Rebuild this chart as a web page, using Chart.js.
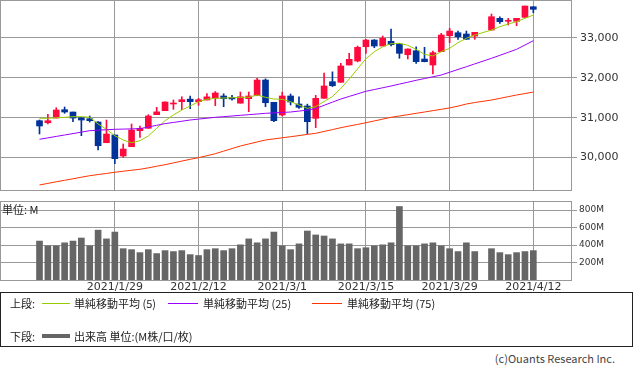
<!DOCTYPE html>
<html>
<head>
<meta charset="utf-8">
<script src="https://cdn.jsdelivr.net/npm/chart.js@4/dist/chart.umd.min.js"></script>
<style>
  html,body{margin:0;padding:0;background:#fff;}
  body{width:633px;height:373px;position:relative;overflow:hidden;font-family:"Noto Sans CJK JP","Noto Sans",sans-serif;color:#222;}
  canvas{position:absolute;left:0;}
  #priceCanvas{top:0;}
  #volCanvas{top:201px;}
  .t{position:absolute;font-size:11px;line-height:13px;white-space:pre;}
  .ln{position:absolute;height:1px;}
  #legendBox{position:absolute;left:0;top:292px;width:631px;height:53px;border:1px solid #222;}
</style>
</head>
<body>
<canvas id="priceCanvas" width="633" height="196"></canvas>
<canvas id="volCanvas" width="633" height="95"></canvas>
<div class="t" style="left:2px;top:203px;">単位: M</div>
<div id="legendBox"></div>
<div class="t" style="left:10px;top:297px;">上段:</div>
<div class="ln" style="left:42px;width:28px;top:303px;background:#99cc00;"></div>
<div class="t" style="left:74px;top:297px;">単純移動平均 (5)</div>
<div class="ln" style="left:168px;width:30px;top:303px;background:#9900ff;"></div>
<div class="t" style="left:203px;top:297px;">単純移動平均 (25)</div>
<div class="ln" style="left:312px;width:30px;top:303px;background:#ff3300;"></div>
<div class="t" style="left:347px;top:297px;">単純移動平均 (75)</div>
<div class="t" style="left:10px;top:330px;">下段:</div>
<div class="ln" style="left:42px;width:28px;top:334px;height:4px;background:#666;"></div>
<div class="t" style="left:74px;top:330px;">出来高 単位:(M株/口/枚)</div>
<div class="t" style="right:18px;top:352px;color:#444;">(c)Ouants Research Inc.</div>
<script>
const dates = ["2021/1/15","2021/1/19","2021/1/20","2021/1/21","2021/1/22","2021/1/25","2021/1/26","2021/1/27","2021/1/28","2021/1/29",
  "2021/2/1","2021/2/2","2021/2/3","2021/2/4","2021/2/5","2021/2/8","2021/2/9","2021/2/10","2021/2/11","2021/2/12",
  "2021/2/16","2021/2/17","2021/2/18","2021/2/19","2021/2/22","2021/2/23","2021/2/24","2021/2/25","2021/2/26","2021/3/1",
  "2021/3/2","2021/3/3","2021/3/4","2021/3/5","2021/3/8","2021/3/9","2021/3/10","2021/3/11","2021/3/12","2021/3/15",
  "2021/3/16","2021/3/17","2021/3/18","2021/3/19","2021/3/22","2021/3/23","2021/3/24","2021/3/25","2021/3/26","2021/3/29",
  "2021/3/30","2021/3/31","2021/4/1","2021/4/2","2021/4/5","2021/4/6","2021/4/7","2021/4/8","2021/4/9","2021/4/12"];

const openP = [30924,30873,30991,31200,31142,30999,30974,30891,30371,30565,
  30038,30271,30673,30733,31075,31175,31343,31401,31466,31401,
  31443,31490,31544,31511,31364,31476,31551,31945,31386,31067,
  31544,31343,31293,30984,31486,31903,31888,32322,32422,32781,
  32949,32799,32917,32849,32580,32681,32472,32322,32656,33057,
  33132,33100,33050,null,33200,33494,33420,33419,33519,33785];
const highP = [30941,31084,31250,31268,31142,31010,31042,30900,30941,30565,
  30340,30841,30791,31075,31260,31400,31443,31526,31544,31486,
  31605,31655,31600,31560,31644,31644,31988,31975,31386,31640,
  31594,31520,31340,31560,32120,32150,32364,32615,32799,32967,
  32960,33050,33225,32860,32730,32781,32766,32673,33117,33243,
  33175,33175,33142,null,33602,33534,33494,33494,33803,33785];
const lowP = [30590,30841,30991,31109,30899,30547,30891,30188,30371,29845,
  30005,30271,30507,30733,31075,31175,31210,31200,31225,31310,
  31443,31300,31275,31440,31364,31150,31551,31275,30899,31042,
  31318,31235,30600,30750,31486,31780,31888,32322,32400,32615,
  32756,32799,32799,32490,32472,32364,32400,32100,32656,32882,
  32967,32967,32967,null,33200,33368,33326,33308,33519,33634];
const closeP = [30791,30924,31192,31142,30991,30941,30924,30296,30590,29970,
  30213,30690,30733,31042,31146,31393,31360,31451,31401,31451,
  31522,31620,31476,31470,31526,31544,31945,31375,30924,31544,
  31393,31260,30899,31486,31795,31802,32297,32465,32766,32949,
  32799,32992,32832,32615,32723,32405,32405,32631,33075,33175,
  33032,32967,33142,null,33534,33409,33432,33494,33803,33720];

const volumeM = [445,390,390,425,445,480,390,570,470,548,
  358,347,313,347,302,336,325,336,290,280,
  347,358,336,358,402,470,425,470,548,390,
  347,413,560,515,503,470,413,413,358,369,
  390,402,425,840,390,390,413,425,390,358,
  325,425,325,null,358,313,290,313,325,336];

const ma5 = [30984,30984,30999,31009,31025,31025,31009,30841,30708,30547,
  30439,30371,30422,30540,30733,30924,31067,31192,31293,31401,
  31461,31486,31493,31501,31511,31511,31569,31511,31468,31461,
  31401,31318,31235,31275,31405,31531,31732,31970,32225,32480,
  32655,32781,32857,32866,32816,32716,32590,32548,32656,32741,
  32882,32992,33075,null,33200,33283,33351,33409,33494,33577];
const ma25 = [30457,30493,30529,30565,30600,30637,30673,30685,30697,30708,
  30713,30718,30724,30766,30808,30850,30880,30910,30941,30964,
  30986,31009,31025,31042,31059,31075,31092,31109,31120,31131,
  31142,31165,31190,31230,31310,31390,31468,31533,31598,31662,
  31706,31750,31795,31843,31890,31938,31982,32026,32071,32140,
  32210,32279,32350,null,32490,32565,32640,32716,32824,32932];
const ma75 = [29310,29350,29390,29428,29465,29505,29543,29572,29600,29629,
  29655,29680,29704,29740,29780,29819,29865,29910,29955,29995,
  30045,30095,30160,30225,30289,30340,30390,30439,30467,30495,
  30522,30550,30580,30607,30655,30700,30748,30790,30830,30873,
  30918,30963,31009,31042,31075,31109,31142,31176,31210,31245,
  31290,31343,31380,null,31443,31485,31527,31569,31605,31644];

const priceTicks = [30000,31000,32000,33000];
const volumeTicks = [200,400,600,800];
const dateTickIndex = [9,19,29,39,49,59];

const UP = '#ff0a3c', DOWN = '#003399', GRID = '#999999';
Chart.defaults.font.family = '"DejaVu Sans", sans-serif';
Chart.defaults.color = '#333';

const frame = {
  id: 'frame',
  beforeDatasetsDraw(chart) {
    const {ctx, chartArea: a} = chart;
    ctx.save();
    ctx.strokeStyle = GRID; ctx.lineWidth = 1;
    ctx.strokeRect(a.left + 0.5, a.top + 0.5, a.right - a.left - 1, a.bottom - a.top);
    ctx.restore();
  }
};
function zeroPad(s) { s.paddingTop = 0; s.paddingBottom = 0; s.paddingLeft = 0; s.paddingRight = 0; }

const xRange = {min: -4.72, max: 63.62};

const candles = [], wicks = [];
dates.forEach((d, i) => {
  if (openP[i] == null) return;
  const up = closeP[i] >= openP[i];
  candles.push({x: i, y: [openP[i], closeP[i]], up});
  wicks.push({x: i, y: [lowP[i], highP[i]], up});
});
const toPts = arr => arr.map((v, i) => ({x: i, y: v}));

new Chart(document.getElementById('priceCanvas'), {
  type: 'bar',
  data: {
    datasets: [
      {type: 'line', data: toPts(ma75), borderColor: '#ff3300', borderWidth: 1, pointRadius: 0, spanGaps: true, order: 0},
      {type: 'line', data: toPts(ma25), borderColor: '#9900ff', borderWidth: 1, pointRadius: 0, spanGaps: true, order: 0},
      {type: 'line', data: toPts(ma5), borderColor: '#99cc00', borderWidth: 1, pointRadius: 0, spanGaps: true, order: 0},
      {data: candles, barThickness: 6, minBarLength: 1, grouped: false, order: 1,
        backgroundColor: c => (c.raw && c.raw.up) ? UP : DOWN},
      {data: wicks, barThickness: 1, grouped: false, order: 2,
        backgroundColor: c => (c.raw && c.raw.up) ? UP : DOWN}
    ]
  },
  options: {
    responsive: false, animation: false, devicePixelRatio: 1,
    layout: {padding: 0},
    plugins: {legend: {display: false}, tooltip: {enabled: false}},
    scales: {
      x: {type: 'linear', min: xRange.min, max: xRange.max, offset: false,
        grid: {color: GRID, offset: false, drawTicks: false},
        border: {display: false},
        ticks: {display: false},
        afterBuildTicks: s => { s.ticks = dateTickIndex.map(v => ({value: v})); },
        afterFit: s => { s.height = 6; zeroPad(s); }},
      y: {position: 'right', min: 29184, max: 33954,
        grid: {color: GRID, tickLength: 5},
        border: {display: false},
        ticks: {padding: 3, font: {size: 11}, callback: v => v.toLocaleString('en-US')},
        afterBuildTicks: s => { s.ticks = priceTicks.map(v => ({value: v})); },
        afterFit: s => { s.width = 61; zeroPad(s); }}
    }
  },
  plugins: [frame]
});

new Chart(document.getElementById('volCanvas'), {
  type: 'bar',
  data: {datasets: [{data: toPts(volumeM).filter(p => p.y != null), backgroundColor: '#666666', barThickness: 6, grouped: false}]},
  options: {
    responsive: false, animation: false, devicePixelRatio: 1,
    layout: {padding: 0},
    plugins: {legend: {display: false}, tooltip: {enabled: false}},
    scales: {
      x: {type: 'linear', min: xRange.min, max: xRange.max, offset: false,
        grid: {color: GRID, offset: false, drawTicks: false},
        border: {display: false},
        ticks: {padding: 1, font: {size: 11}, maxRotation: 0, autoSkip: false, callback: v => dates[v] || ''},
        afterBuildTicks: s => { s.ticks = dateTickIndex.map(v => ({value: v})); },
        afterFit: s => { s.height = 16; zeroPad(s); }},
      y: {position: 'right', min: 0, max: 903,
        grid: {color: GRID, tickLength: 5},
        border: {display: false},
        ticks: {padding: 2, font: {size: 9}, callback: v => v + 'M'},
        afterBuildTicks: s => { s.ticks = volumeTicks.map(v => ({value: v})); },
        afterFit: s => { s.width = 61; zeroPad(s); }}
    }
  },
  plugins: [frame]
});
</script>
</body>
</html>
